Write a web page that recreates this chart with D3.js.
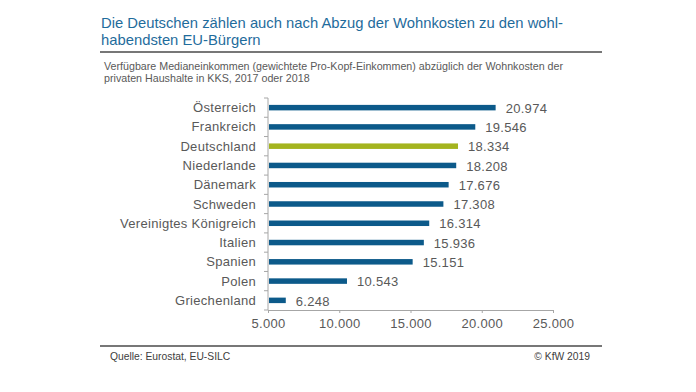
<!DOCTYPE html>
<html><head><meta charset="utf-8">
<script src="https://cdn.jsdelivr.net/npm/d3@7/dist/d3.min.js"></script>
<style>
html,body{margin:0;padding:0;background:#fff;}
svg{display:block;font-family:"Liberation Sans",Arial,sans-serif;}
</style></head>
<body>
<svg id="c" width="696" height="392"></svg>
<script>
const countries = ["Österreich","Frankreich","Deutschland","Niederlande","Dänemark","Schweden","Vereinigtes Königreich","Italien","Spanien","Polen","Griechenland"];
const values = [20974,19546,18334,18208,17676,17308,16314,15936,15151,10543,6248];
const highlight = ["Deutschland"];
const xTicks = [5000,10000,15000,20000,25000];
const titleLines = ["Die Deutschen zählen auch nach Abzug der Wohnkosten zu den wohl-","habendsten EU-Bürgern"];
const subtitleLines = ["Verfügbare Medianeinkommen  (gewichtete Pro-Kopf-Einkommen) abzüglich der Wohnkosten der","privaten Haushalte in KKS, 2017 oder 2018"];
const source = "Quelle:  Eurostat, EU-SILC";
const copyright = "© KfW 2019";

const svg = d3.select("#c");
const fmt = v => d3.format(",")(v).replace(/,/g,".");

// title
svg.append("g").selectAll("text").data(titleLines).join("text")
  .attr("x",101).attr("y",(d,i)=>28+i*17)
  .attr("fill","#1f6c9c").attr("font-size",14.8).text(d=>d);
svg.append("line").attr("x1",100).attr("x2",602).attr("y1",52).attr("y2",52)
  .attr("stroke","#777").attr("stroke-width",2);
svg.append("g").selectAll("text").data(subtitleLines).join("text")
  .attr("x",104).attr("y",(d,i)=>70+i*12)
  .attr("fill","#595959").attr("font-size",10.7).text(d=>d);

const x = d3.scaleLinear().domain([5000,25000]).range([268,553]);
const y = d3.scaleBand().domain(countries).range([98,310]);

// y axis
const ya = svg.append("g").attr("transform","translate(268,0)");
ya.append("line").attr("y1",98).attr("y2",310).attr("stroke","#a6a6a6");
const bounds = d3.range(countries.length+1).map(i=>98+i*y.step());
ya.selectAll(".t").data(bounds).join("line")
  .attr("x1",-4).attr("x2",0).attr("y1",d=>d).attr("y2",d=>d).attr("stroke","#a6a6a6");
ya.selectAll("text").data(countries).join("text")
  .attr("x",-12).attr("y",d=>y(d)+y.bandwidth()/2).attr("dy","0.35em")
  .attr("text-anchor","end").attr("fill","#595959").attr("font-size",13)
  .attr("letter-spacing",0.3).text(d=>d);

// x axis
const xa = svg.append("g").attr("transform","translate(0,310)")
  .call(d3.axisBottom(x).tickValues(xTicks).tickSize(3).tickSizeOuter(0).tickFormat(fmt));
xa.select(".domain").attr("stroke","#a6a6a6");
xa.selectAll(".tick line").attr("stroke","#a6a6a6");
xa.selectAll(".tick text").attr("fill","#595959").attr("font-size",13)
  .attr("letter-spacing",0.3)
  .attr("font-family","'Liberation Sans',Arial,sans-serif").attr("y",9).attr("dy","0.71em");

// bars
const bh = 5.5;
svg.append("g").selectAll("rect").data(countries).join("rect")
  .attr("x",x(5000)+1).attr("y",d=>y(d)+y.bandwidth()/2-bh/2)
  .attr("width",(d,i)=>x(values[i])-x(5000)-1).attr("height",bh)
  .attr("fill",d=>highlight.includes(d)?"#a4b41e":"#0c5a8a");
svg.append("g").selectAll("text").data(countries).join("text")
  .attr("x",(d,i)=>x(values[i])+10).attr("y",d=>y(d)+y.bandwidth()/2).attr("dy","0.4em")
  .attr("fill","#595959").attr("font-size",13).attr("letter-spacing",0.3)
  .text((d,i)=>fmt(values[i]));

// footer
svg.append("line").attr("x1",100).attr("x2",602).attr("y1",346).attr("y2",346)
  .attr("stroke","#777").attr("stroke-width",2);
svg.append("text").attr("x",110).attr("y",360).attr("fill","#404040").attr("font-size",10.3).text(source);
svg.append("text").attr("x",590).attr("y",360).attr("text-anchor","end").attr("fill","#404040").attr("font-size",10.3).text(copyright);
</script>
</body></html>
